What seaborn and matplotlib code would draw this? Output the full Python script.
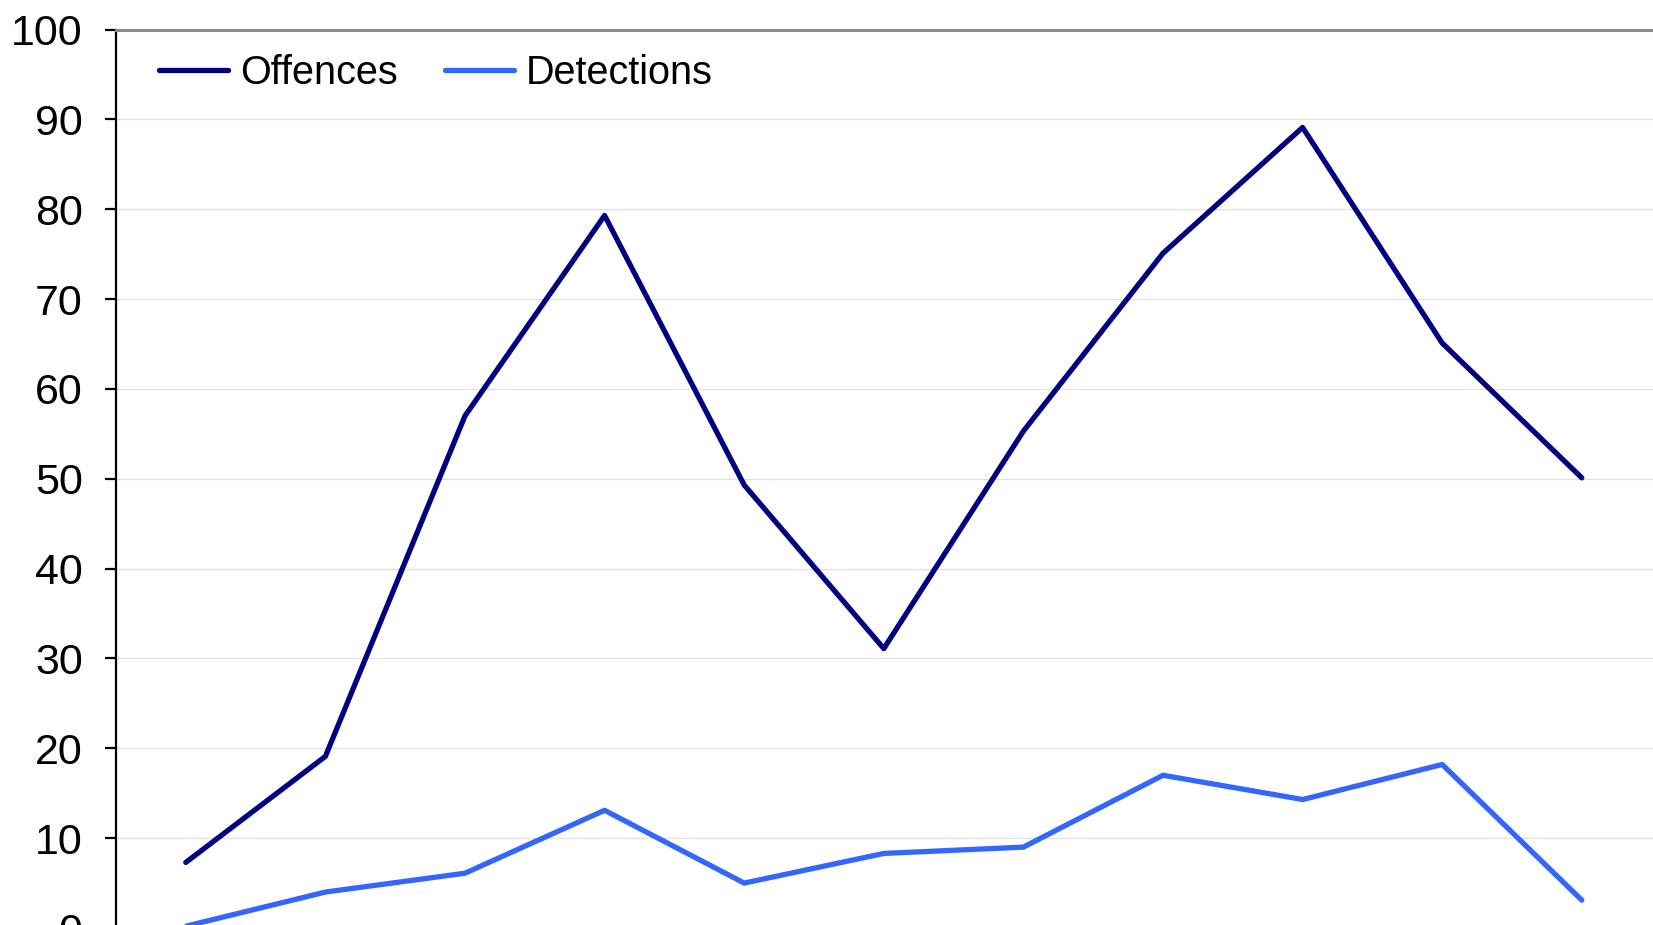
import pandas as pd
import matplotlib
matplotlib.use("Agg")
import matplotlib.pyplot as plt
import seaborn as sns

# Values (x labels are cropped away in the original)
periods = list(range(1, 12))
offences = [7.3, 19.1, 57.0, 79.3, 49.3, 31.1, 55.3, 75.1, 89.1, 65.1, 50.1]
detections = [0.2, 4.0, 6.1, 13.1, 5.0, 8.3, 9.0, 17.0, 14.3, 18.2, 3.1]

df = pd.DataFrame({
    "Period": periods * 2,
    "Count": offences + detections,
    "Series": ["Offences"] * len(periods) + ["Detections"] * len(periods),
})

sns.set_style("white")
plt.rcParams["font.family"] = ["Liberation Sans", "DejaVu Sans"]
plt.rcParams["text.color"] = "black"
plt.rcParams["ytick.color"] = "black"

fig = plt.figure(figsize=(16.53, 9.25), dpi=100)
# chart in the reference is cropped: bottom axis sits just below the image
ax = fig.add_axes([116 / 1653, -3 / 925, 12 * 139.6 / 1653, 898.5 / 925])

sns.lineplot(data=df, x="Period", y="Count", hue="Series",
             palette={"Offences": "#000080", "Detections": "#3366FF"},
             linewidth=3.8, ax=ax)

ax.set_xlim(0.5, 12.5)
ax.set_ylim(0, 100)
ax.set_yticks(range(0, 101, 10))
ax.set_xlabel("")
ax.set_ylabel("")
ax.yaxis.grid(True, color="#E0E0E0", linewidth=0.9)
ax.set_axisbelow(True)

ax.spines["top"].set_color("#888888")
ax.spines["top"].set_linewidth(2.2)
ax.spines["right"].set_color("#888888")
ax.spines["left"].set_color("black")
ax.spines["left"].set_linewidth(1.6)
ax.tick_params(axis="y", direction="out", length=8, width=1.6, color="black",
               labelcolor="black", labelsize=31, pad=16, left=True)
ax.tick_params(axis="x", bottom=False, labelbottom=False)

leg = ax.legend(loc="upper left", bbox_to_anchor=(0.016, 0.99), ncol=2,
                frameon=False, fontsize=28.5, handlelength=1.75,
                handletextpad=0.3, columnspacing=1.2, borderaxespad=0)
for t in leg.get_texts():
    t.set_color("black")

fig.savefig("out.png", dpi=100)
